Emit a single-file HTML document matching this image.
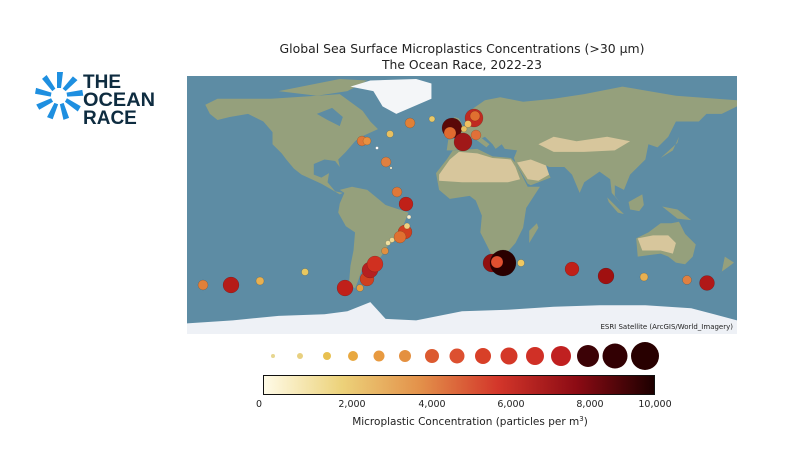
<!DOCTYPE html>
<html><head><meta charset="utf-8"><style>
body{margin:0;width:800px;height:450px;background:#fff;overflow:hidden;font-family:"DejaVu Sans","Liberation Sans",sans-serif;}
svg{position:absolute;left:0;top:0}
</style></head><body>
<svg width="800" height="450" viewBox="0 0 800 450" xmlns="http://www.w3.org/2000/svg">
<defs>
<linearGradient id="cb" x1="0" x2="1" y1="0" y2="0">
<stop offset="0" stop-color="#fffbe8"/><stop offset="0.2" stop-color="#ecd27a"/>
<stop offset="0.4" stop-color="#e3914a"/><stop offset="0.6" stop-color="#d3362a"/>
<stop offset="0.8" stop-color="#8c0b14"/><stop offset="1" stop-color="#1c0000"/>
</linearGradient>
<clipPath id="mc"><rect x="187" y="76" width="550" height="258"/></clipPath>
</defs>
<text x="462" y="53" font-size="12" text-anchor="middle" fill="#222" textLength="365" lengthAdjust="spacingAndGlyphs">Global Sea Surface Microplastics Concentrations (&gt;30 μm)</text>
<text x="462" y="69" font-size="12" text-anchor="middle" fill="#222" textLength="160" lengthAdjust="spacingAndGlyphs">The Ocean Race, 2022-23</text>
<g clip-path="url(#mc)">
<rect x="187" y="76" width="550" height="258" fill="#5d8ca4"/>
<g transform="translate(462,205) scale(1.528,-1.518)">
<g fill="#95a07c">
<polygon points="-168,66 -160,70 -140,70 -125,70 -95,72 -80,73 -65,62 -60,55 -55,50 -66,45 -70,42 -76,35 -81,30 -80,25 -83,29 -90,30 -97,27 -97,20 -92,18 -87,21 -88,15 -83,9 -78,8 -80,7 -85,10 -92,14 -105,20 -110,24 -115,30 -118,34 -124,40 -124,48 -130,55 -140,60 -152,58 -160,56 -165,60"/>
<polygon points="-120,75 -80,83 -62,82 -75,75 -95,72"/>
<polygon points="-80,10 -72,12 -62,10 -50,0 -35,-5 -39,-15 -41,-22 -48,-26 -53,-34 -58,-38 -65,-41 -68,-50 -70,-55 -74,-52 -73,-40 -71,-30 -70,-18 -76,-14 -81,-5 -80,1 -77,8"/>
<polygon points="-17,21 -10,30 -6,36 10,37 20,32 32,31 35,28 43,12 51,12 42,-2 40,-15 35,-25 28,-33 20,-35 18,-30 12,-18 13,-7 9,3 5,6 -8,4 -15,10"/>
<polygon points="-10,36 -9,43 -2,44 -5,48 2,51 8,54 10,58 5,62 15,69 25,71 40,68 60,70 80,73 105,78 140,72 180,69 180,65 170,60 160,60 155,55 140,55 135,45 128,38 122,40 120,30 110,20 106,10 100,13 100,6 104,1 98,8 97,17 90,22 80,15 77,8 72,20 67,25 57,25 55,26 52,24 56,22 58,18 45,13 43,14 35,28 34,31 36,36 28,37 26,40 22,37 20,40 15,45 13,44 18,40 16,38 8,44 3,43 -1,37 -6,36"/>
<polygon points="-5,50 1,51 0,53 -2,57 -5,58 -6,55 -4,53"/>
<polygon points="-10,52 -6,52 -6,55 -10,54"/>
<polygon points="114,-22 122,-18 130,-12 137,-12 142,-11 146,-19 153,-26 151,-34 146,-39 140,-38 135,-34 130,-32 115,-34"/>
<polygon points="109,2 118,7 119,0 116,-4 110,-3"/>
<polygon points="95,5 106,-6 102,-5 96,2"/>
<polygon points="131,-1 141,-3 150,-10 141,-9"/>
<polygon points="44,-25 50,-15 49,-12 44,-17"/>
<polygon points="130,31 141,41 142,45 138,36"/>
<polygon points="167,-46 174,-41 178,-38 172,-34 170,-44"/>
</g>
<g fill="#d7c69c">
<polygon points="-15,20 -8,30 -2,35 10,34 20,31 32,30 35,25 38,17 30,15 15,15 0,15 -15,16"/>
<polygon points="36,28 45,30 55,26 57,20 50,16 43,17"/>
<polygon points="115,-22 125,-20 135,-20 140,-25 138,-32 130,-30 118,-30"/>
<polygon points="50,40 60,45 75,42 95,45 110,42 100,36 80,35 60,35"/>
</g>
<polygon fill="#5d8ca4" points="-95,60 -88,56 -80,52 -78,58 -85,64"/>
<polygon fill="#f4f6f8" points="-73,78 -60,82 -30,83 -20,80 -20,70 -43,60 -52,65 -58,75"/>
<polygon fill="#eef1f6" points="-180,-78 -150,-76 -120,-73 -90,-72 -75,-70 -60,-64 -50,-75 -30,-76 0,-70 30,-69 60,-67 90,-66 120,-66 150,-68 165,-72 180,-76 180,-90 -180,-90"/>
</g>
</g>
<text x="733" y="329" font-size="7" text-anchor="end" fill="#222">ESRI Satellite (ArcGIS/World_Imagery)</text>
<g stroke="rgba(0,0,0,0.25)" stroke-width="0.5">
<circle cx="203" cy="285" r="5" fill="#e0803a"/>
<circle cx="231" cy="285" r="8" fill="#b51c18"/>
<circle cx="260" cy="281" r="4" fill="#e8b050"/>
<circle cx="305" cy="272" r="3.5" fill="#e8c860"/>
<circle cx="345" cy="288" r="8" fill="#c0201a"/>
<circle cx="360" cy="288" r="3.5" fill="#e8a040"/>
<circle cx="367" cy="279" r="7" fill="#d04020"/>
<circle cx="370" cy="270" r="8" fill="#b52020"/>
<circle cx="375" cy="264" r="8" fill="#d03020"/>
<circle cx="385" cy="251" r="3.5" fill="#e09040"/>
<circle cx="388" cy="243" r="2.5" fill="#f0e0a0"/>
<circle cx="392" cy="240" r="2.5" fill="#f0d890"/>
<circle cx="405" cy="232" r="7" fill="#d04020"/>
<circle cx="400" cy="237" r="6" fill="#e07030"/>
<circle cx="407" cy="226" r="3" fill="#f0d080"/>
<circle cx="406" cy="204" r="7" fill="#c02018"/>
<circle cx="397" cy="192" r="5" fill="#e07838"/>
<circle cx="409" cy="217" r="2" fill="#f8f0d0"/>
<circle cx="391" cy="168" r="1.2" fill="#f8f0d0"/>
<circle cx="386" cy="162" r="5" fill="#e08040"/>
<circle cx="362" cy="141" r="5" fill="#e07838"/>
<circle cx="367" cy="141" r="4" fill="#e89040"/>
<circle cx="377" cy="148" r="1.5" fill="#ffffff"/>
<circle cx="390" cy="134" r="3.5" fill="#e8c060"/>
<circle cx="410" cy="123" r="5" fill="#e08038"/>
<circle cx="432" cy="119" r="3" fill="#e8c868"/>
<circle cx="452" cy="128" r="10" fill="#5a0808"/>
<circle cx="450" cy="133" r="6" fill="#e06a30"/>
<circle cx="463" cy="142" r="9" fill="#a01818"/>
<circle cx="474" cy="118" r="9" fill="#c02a20"/>
<circle cx="475" cy="116" r="5" fill="#e07030"/>
<circle cx="468" cy="124" r="3.5" fill="#f0c060"/>
<circle cx="464" cy="129" r="3" fill="#e8c060"/>
<circle cx="476" cy="135" r="5" fill="#e07038"/>
<circle cx="492" cy="263" r="9" fill="#901010"/>
<circle cx="503" cy="263" r="13" fill="#2a0000"/>
<circle cx="497" cy="262" r="6" fill="#e05030"/>
<circle cx="521" cy="263" r="3.5" fill="#f0c860"/>
<circle cx="572" cy="269" r="7" fill="#c02018"/>
<circle cx="606" cy="276" r="8" fill="#a01010"/>
<circle cx="644" cy="277" r="4" fill="#e8b050"/>
<circle cx="687" cy="280" r="4.5" fill="#e08040"/>
<circle cx="707" cy="283" r="7.5" fill="#b01818"/>
</g>
<g>
<circle cx="273" cy="356" r="2" fill="#e6d690"/>
<circle cx="300" cy="356" r="3" fill="#e8d080"/>
<circle cx="327" cy="356" r="4" fill="#e8c050"/>
<circle cx="353" cy="356" r="5" fill="#e8a840"/>
<circle cx="379" cy="356" r="5.5" fill="#e89a40"/>
<circle cx="405" cy="356" r="6" fill="#e49040"/>
<circle cx="432" cy="356" r="7" fill="#dc5a30"/>
<circle cx="457" cy="356" r="7.5" fill="#dc5030"/>
<circle cx="483" cy="356" r="8" fill="#d84028"/>
<circle cx="509" cy="356" r="8.5" fill="#d43828"/>
<circle cx="535" cy="356" r="9" fill="#d03026"/>
<circle cx="561" cy="356" r="10" fill="#c02020"/>
<circle cx="588" cy="356" r="11" fill="#3c0206"/>
<circle cx="615" cy="356" r="12.5" fill="#320003"/>
<circle cx="645" cy="356" r="14" fill="#280000"/>
</g>
<rect x="263.5" y="375.5" width="391" height="19" fill="url(#cb)" stroke="#111" stroke-width="1"/>
<g font-size="9.5" fill="#222" text-anchor="middle">
<text x="259" y="407">0</text>
<text x="352" y="407">2,000</text>
<text x="432" y="407">4,000</text>
<text x="511" y="407">6,000</text>
<text x="590" y="407">8,000</text>
<text x="655" y="407">10,000</text>
</g>
<text x="470" y="425" font-size="10.5" text-anchor="middle" fill="#222">Microplastic Concentration (particles per m<tspan font-size="7" dy="-4">3</tspan><tspan dy="4">)</tspan></text>
<g transform="translate(59,96)" fill="#1e8fe0">
<g id="r"><polygon points="-2,-8 2,-8 4,-24 -2,-24"/></g>
<use href="#r" transform="rotate(40)"/><use href="#r" transform="rotate(80)"/>
<use href="#r" transform="rotate(120)"/><use href="#r" transform="rotate(160)"/>
<use href="#r" transform="rotate(200)"/><use href="#r" transform="rotate(240)"/>
<use href="#r" transform="rotate(280)"/><use href="#r" transform="rotate(320)"/>
</g>
<g font-size="19" font-weight="bold" fill="#0e2c40" font-family="Liberation Sans, sans-serif">
<text x="83" y="88">THE</text>
<text x="83" y="106" textLength="72" lengthAdjust="spacingAndGlyphs">OCEAN</text>
<text x="83" y="124">RACE</text>
</g>
</svg>
</body></html>
